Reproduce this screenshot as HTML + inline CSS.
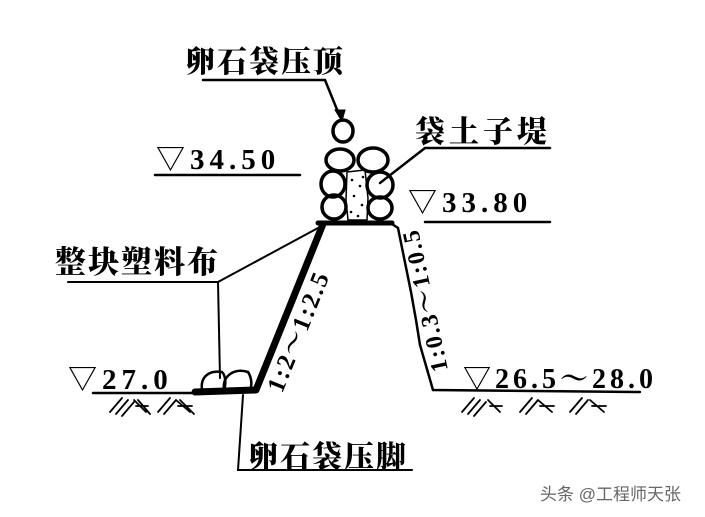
<!DOCTYPE html><html><head><meta charset="utf-8"><style>
html,body{margin:0;padding:0;background:#fff;}
svg{display:block}
text{font-family:"Liberation Serif","Noto Serif CJK SC",serif;font-weight:bold;fill:#000}
.c{font-family:"Noto Serif CJK SC","WenQuanYi Zen Hei",serif;font-weight:900}
</style></head><body>
<svg width="705" height="517" viewBox="0 0 705 517" xmlns="http://www.w3.org/2000/svg">
<rect width="705" height="517" fill="#fff"/>
<g stroke="#000" fill="none" stroke-linecap="round">
<polyline points="203,80 325,80 340,117" stroke-width="2.5"/>
<polygon points="335,110 345,110 342,121" fill="#000"/>
<g stroke-width="3.5">
<ellipse cx="343" cy="131" rx="10" ry="11"/>
<ellipse cx="340" cy="160" rx="14" ry="11"/>
<ellipse cx="373" cy="160" rx="15" ry="12"/>
<ellipse cx="333" cy="184" rx="12" ry="13"/>
<ellipse cx="380" cy="185" rx="13" ry="13"/>
<ellipse cx="334" cy="207" rx="12" ry="12"/>
<ellipse cx="380" cy="208" rx="12" ry="11"/>
<path d="M347,172 L365,170 L368,198 L367,220 L348,220 L346,200 Z" stroke-width="1.5"/>
</g>
<g fill="#000" stroke="none">
<circle cx="352" cy="180" r="1.3"/><circle cx="360" cy="186" r="1.3"/><circle cx="354" cy="196" r="1.3"/><circle cx="362" cy="205" r="1.3"/><circle cx="351" cy="212" r="1.3"/><circle cx="358" cy="216" r="1.3"/><circle cx="363" cy="177" r="1.3"/>
</g>
<polyline points="550,148 425,148 380,183" stroke-width="2.5"/>
<line x1="155" y1="175" x2="300" y2="175" stroke-width="2.5"/>
<line x1="425" y1="222" x2="550" y2="222" stroke-width="2.5"/>
<line x1="318" y1="223" x2="392" y2="223" stroke-width="5"/>
<polyline points="323,224 256,390 195,392" stroke-width="7" stroke-linejoin="round"/>
<line x1="93" y1="393" x2="200" y2="393" stroke-width="2.5"/>
<polyline points="392,224 398,228 411,292 416,320 420,345 433,390 640,392" stroke-width="2.5"/>
<polyline points="68,282 218,282 318,228" stroke-width="2"/>
<line x1="218" y1="282" x2="220" y2="378" stroke-width="2"/>
<g stroke-width="2.5">
<path d="M202,390 C200,376 210,370 222,372 C226,376 226,385 224,390"/>
<path d="M224,390 C222,375 235,368 248,372 C252,378 252,386 250,390"/>
</g>
<polyline points="243,395 238,470 412,470" stroke-width="2"/>
<g stroke-width="1.8">
<path d="M110,412 L122,398 M116,414 L128,400 M122,416 L134,402 M134,400 L146,412 M136,406 L148,406 M138,400 L150,414"/>
<path d="M158,412 L170,398 M164,414 L176,400 M176,400 L190,412 M178,406 L192,406 M180,400 L194,414"/>
<path d="M462,412 L474,398 M468,414 L480,400 M474,416 L486,402 M488,400 L500,412 M490,406 L502,406"/>
<path d="M520,412 L532,398 M526,414 L538,400 M538,400 L552,412 M540,406 L554,406"/>
<path d="M570,412 L582,398 M576,414 L588,400 M590,400 L604,412 M592,406 L606,406"/>
</g>
</g>
<text class="c" x="185" y="72" font-size="30" letter-spacing="2">卵石袋压顶</text>
<text class="c" x="415" y="142" font-size="30" letter-spacing="4">袋土子堤</text>
<text class="c" x="55" y="273" font-size="31" letter-spacing="2">整块塑料布</text>
<text class="c" x="248" y="467" font-size="30" letter-spacing="2">卵石袋压脚</text>
<text x="156" y="169" font-size="29" letter-spacing="5">▽34.50</text>
<text x="408" y="212" font-size="29" letter-spacing="5">▽33.80</text>
<text x="68" y="389" font-size="29" letter-spacing="5">▽27.0</text>
<text x="463" y="388" font-size="28" letter-spacing="4">▽26.5～28.0</text>
<text font-size="25" transform="translate(282,394) rotate(-68)" letter-spacing="2">1:2～1:2.5</text>
<text font-size="24" transform="translate(448,370) rotate(-102)" letter-spacing="2">1:0.3～1:0.5</text>
<text x="540" y="500" font-size="17" style="font-family:'Liberation Sans','Noto Sans CJK SC',sans-serif;font-weight:normal;fill:#666">头条 @工程师天张</text>
</svg>
</body></html>
